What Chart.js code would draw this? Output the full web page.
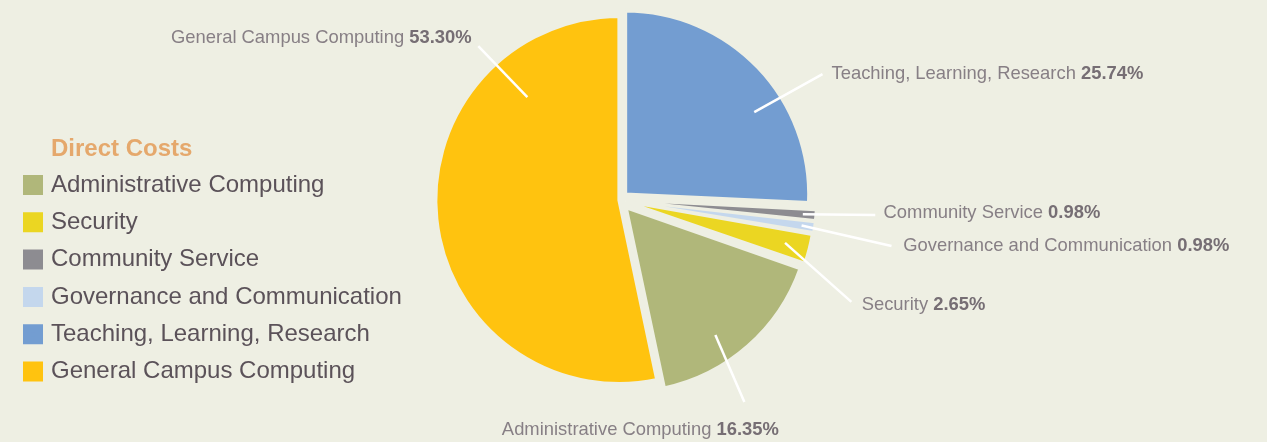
<!DOCTYPE html>
<html>
<head>
<meta charset="utf-8">
<script src="https://cdn.jsdelivr.net/npm/chart.js@4.4.1/dist/chart.umd.min.js"></script>
<style>
  html, body { margin: 0; padding: 0; background: #EEEFE3; }
  #wrap { width: 1267px; height: 442px; position: relative; }
</style>
</head>
<body>
<div id="wrap"><canvas id="chart"></canvas></div>
<script>
// ---- data (clockwise from 12 o'clock) ----
const categories = [
  'Teaching, Learning, Research',
  'Community Service',
  'Governance and Communication',
  'Security',
  'Administrative Computing',
  'General Campus Computing'
];
const shares = [25.74, 0.98, 0.98, 2.65, 16.35, 53.30];
const legendOrder = [
  'Administrative Computing',
  'Security',
  'Community Service',
  'Governance and Communication',
  'Teaching, Learning, Research',
  'General Campus Computing'
];
const legendTitle = 'Direct Costs';

// ---- styles ----
const FONT = "'Liberation Sans', Arial, Helvetica, sans-serif";
const BG = '#EEEFE3';
const sliceColors = ['#739DD1', '#8D8C91', '#C4D7ED', '#EBD622', '#B0B77A', '#FFC30F'];
const sliceOffsets = [32, 26, 26, 26, 38, 0];
const sliceBorders = [4, 2, 2, 3, 4, 4];
const labelColor = '#877F85';
const labelBoldColor = '#766E74';
const labelSize = 18.4;
// annotation placement (polar, relative to pie centre / radius)
const labelLayout = [
  { along: 0.614, rIn: 0.875, endAng: 58.2,  endR: 1.299, align: 'left',   dx: 9,    dy: -1.2 },
  { along: 0.5,   rIn: 1.0,   endAng: 93.35, endR: 1.393, align: 'left',   dx: 8.3,  dy: -3.5 },
  { along: 0.5,   rIn: 1.0,   endAng: 99.6,  endR: 1.5,   align: 'left',   dx: 11.7, dy: -2 },
  { along: 0.5,   rIn: 0.93,  endAng: 113.7, endR: 1.377, align: 'left',   dx: 10.3, dy: 1.7 },
  { along: 0.6,   rIn: 0.9,   endAng: 148.25, endR: 1.291, align: 'center', dx: -104, dy: 26.7 },
  { along: 0.782, rIn: 0.75,  endAng: 317.5, endR: 1.135, align: 'right',  dx: -6.7, dy: -9.3 }
];

Chart.defaults.font.family = FONT;

const sliceLabels = {
  id: 'sliceLabels',
  afterDatasetsDraw(chart) {
    const ctx = chart.ctx;
    const meta = chart.getDatasetMeta(0);
    ctx.save();
    meta.data.forEach((arc, i) => {
      const L = labelLayout[i];
      const p = arc.getProps(['x', 'y', 'startAngle', 'endAngle', 'outerRadius'], true);
      const a1 = p.startAngle + (p.endAngle - p.startAngle) * L.along;
      const x1 = p.x + Math.cos(a1) * p.outerRadius * L.rIn;
      const y1 = p.y + Math.sin(a1) * p.outerRadius * L.rIn;
      const a2 = (L.endAng - 90) * Math.PI / 180;
      const x2 = p.x + Math.cos(a2) * p.outerRadius * L.endR;
      const y2 = p.y + Math.sin(a2) * p.outerRadius * L.endR;
      ctx.beginPath();
      ctx.moveTo(x1, y1);
      ctx.lineTo(x2, y2);
      ctx.strokeStyle = '#FFFFFF';
      ctx.lineWidth = 2.5;
      ctx.lineCap = 'butt';
      ctx.stroke();

      const reg = categories[i] + ' ';
      const bold = shares[i].toFixed(2) + '%';
      const regFont = '400 ' + labelSize + 'px ' + FONT;
      const boldFont = '700 ' + labelSize + 'px ' + FONT;
      ctx.font = regFont;
      const w1 = ctx.measureText(reg).width;
      ctx.font = boldFont;
      const w2 = ctx.measureText(bold).width;
      let tx = x2 + L.dx;
      if (L.align === 'right') tx -= (w1 + w2);
      else if (L.align === 'center') tx -= (w1 + w2) / 2;
      const ty = y2 + L.dy + 0.358 * labelSize;
      ctx.textAlign = 'left';
      ctx.textBaseline = 'alphabetic';
      ctx.font = regFont;
      ctx.fillStyle = labelColor;
      ctx.fillText(reg, tx, ty);
      ctx.font = boldFont;
      ctx.fillStyle = labelBoldColor;
      ctx.fillText(bold, tx + w1, ty);
    });
    ctx.restore();
  }
};

const legendHeading = {
  id: 'legendHeading',
  afterDraw(chart) {
    const lg = chart.legend;
    if (!lg || !lg.legendHitBoxes || !lg.legendHitBoxes.length) return;
    const hb = lg.legendHitBoxes[0];
    const lab = chart.options.plugins.legend.labels;
    const x = hb.left + lab.pointStyleWidth + lab.font.size / 2;
    const y = hb.top + hb.height / 2 - (hb.height + lab.padding) + 1.5;
    const ctx = chart.ctx;
    ctx.save();
    ctx.font = '700 24px ' + FONT;
    ctx.fillStyle = '#E5A86C';
    ctx.textAlign = 'left';
    ctx.textBaseline = 'middle';
    ctx.fillText(legendTitle, x, y);
    ctx.restore();
  }
};

new Chart(document.getElementById('chart'), {
  type: 'pie',
  data: {
    labels: categories,
    datasets: [{
      data: shares,
      backgroundColor: sliceColors,
      borderColor: BG,
      borderWidth: sliceBorders,
      offset: sliceOffsets,
      hoverOffset: 0,
      clip: false
    }]
  },
  options: {
    responsive: true,
    maintainAspectRatio: false,
    animation: false,
    events: [],
    radius: 184,
    layout: { padding: { left: 13.7, right: 440.1, top: 0, bottom: 42 } },
    plugins: {
      tooltip: { enabled: false },
      legend: {
        position: 'left',
        align: 'start',
        title: { display: true, text: '', padding: { top: 130.9, bottom: 0 }, font: { size: 24, lineHeight: 1.2 } },
        labels: {
          usePointStyle: true,
          pointStyle: 'rect',
          pointStyleWidth: 12,
          boxWidth: 12,
          boxHeight: 12,
          padding: 13.3,
          color: '#5B5259',
          font: { family: FONT, size: 24 },
          generateLabels(chart) {
            return legendOrder.map(name => {
              const i = categories.indexOf(name);
              return {
                text: name,
                fillStyle: sliceColors[i],
                strokeStyle: sliceColors[i],
                lineWidth: 8,
                pointStyle: 'rect',
                hidden: false,
                index: i,
                fontColor: '#5B5259'
              };
            });
          }
        }
      }
    }
  },
  plugins: [sliceLabels, legendHeading]
});
</script>
</body>
</html>
